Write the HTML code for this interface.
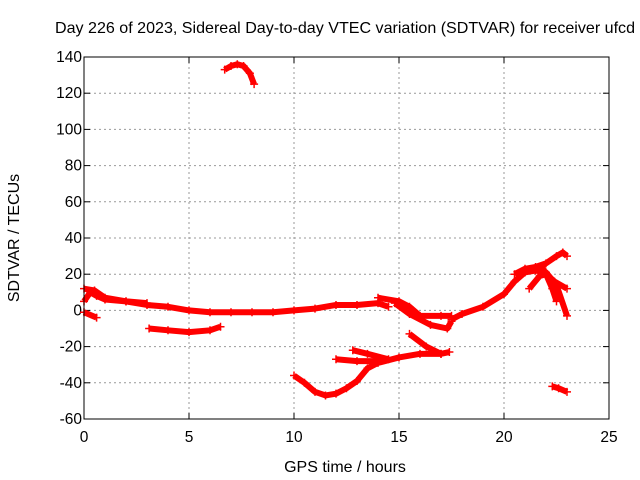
<!DOCTYPE html>
<html><head><meta charset="utf-8"><style>
body{margin:0;background:#fff}
svg{display:block;font-family:"Liberation Sans",sans-serif}
</style></head><body>
<svg id="c" width="640" height="480">
<text x="345" y="33" font-size="16" text-anchor="middle" textLength="580" lengthAdjust="spacingAndGlyphs">Day 226 of 2023, Sidereal Day-to-day VTEC variation (SDTVAR) for receiver ufcd</text>
<text x="345" y="472" font-size="16" text-anchor="middle">GPS time / hours</text>
<text transform="translate(19,238) rotate(-90)" font-size="16" text-anchor="middle">SDTVAR / TECUs</text>
<g id="grid"></g><g id="ticks"></g><g id="series"></g>
<rect x="84" y="57" width="525" height="362" fill="none" stroke="#000"/>
</svg>
<script>
const xTicks=[0,5,10,15,20,25];
const yTicks=[140,120,100,80,60,40,20,0,-20,-40,-60];
const track1=[[6.7,133],[7.0,135],[7.3,136],[7.6,135],[7.9,131],[8.1,125]];
const track2=[[0,5],[0.3,10],[0.6,8],[1,6],[2,5],[3,3],[4,2],[5,0],[6,-1],[7,-1],[8,-1],[9,-1],[10,0],[11,1],[12,3],[13,3],[14,4],[14.5,2]];
const track3=[[0,12],[0.5,11],[1,7],[2,5],[3,4]];
const track4=[[0,-1],[0.6,-4]];
const track5=[[3.1,-10],[4,-11],[5,-12],[6,-11],[6.5,-9]];
const track6=[[14,7],[15,5],[15.5,2],[16,-3],[17,-3],[17.5,-3]];
const track7=[[14.8,4],[15.5,-2],[16.5,-8],[17.3,-10],[17.5,-6]];
const track8=[[10,-36],[10.5,-40],[11,-45],[11.5,-47],[12,-46],[12.5,-43],[13,-39],[13.5,-32],[14,-29],[15,-26],[16,-24],[17,-24],[17.4,-23]];
const track9=[[12,-27],[13,-28],[14,-28]];
const track10=[[12.8,-22],[13.5,-24],[14.5,-27]];
const track11=[[15.5,-13],[16.3,-20],[17,-24]];
const track12=[[17.5,-5],[18,-2],[19,2],[20,9],[20.5,16],[21,21],[21.5,22],[22,21],[22.5,14],[23,-3]];
const track13=[[20.5,20],[21,23],[21.5,24],[22,26],[22.5,30],[22.8,32],[23,30]];
const track14=[[21.2,12],[21.7,19],[22,20],[22.4,16],[23,12]];
const track15=[[21.8,24],[22,20],[22.3,12],[22.5,5]];
const track16=[[22.3,-42],[22.6,-43],[23,-45]];
const tracks=[track1,track2,track3,track4,track5,track6,track7,track8,track9,track10,track11,track12,track13,track14,track15,track16];
const X0=84,X1=609,Y0=419,Y1=57;
const sx=v=>X0+(v-0)/25*(X1-X0);
const sy=v=>Y0-(v+60)/200*(Y0-Y1);
const NS='http://www.w3.org/2000/svg';
const g=document.getElementById('grid'),t=document.getElementById('ticks'),s=document.getElementById('series');
function mk(tag,a,p){const e=document.createElementNS(NS,tag);for(const k in a)e.setAttribute(k,a[k]);p.appendChild(e);return e;}
xTicks.forEach(v=>{const x=sx(v);
 if(v>0&&v<25){const l=mk('line',{x1:x,x2:x,y1:Y1,y2:Y0,stroke:'#999','stroke-dasharray':'2,3'},g);
 
 }
 mk('line',{x1:x,x2:x,y1:Y0,y2:Y0-6,stroke:'#000'},t);mk('line',{x1:x,x2:x,y1:Y1,y2:Y1+6,stroke:'#000'},t);
 const tx=mk('text',{x:x,y:Y0+23,'font-size':15.5,'text-anchor':'middle'},t);tx.textContent=v;
 
 });
yTicks.forEach(v=>{const y=sy(v);
 if(v>-60&&v<140){const l=mk('line',{x1:X0,x2:X1,y1:y,y2:y,stroke:'#999','stroke-dasharray':'2,3'},g);
 
 }
 mk('line',{x1:X0,x2:X0+6,y1:y,y2:y,stroke:'#000'},t);mk('line',{x1:X1,x2:X1-6,y1:y,y2:y,stroke:'#000'},t);
 const tx=mk('text',{x:X0-2,y:y+5,'font-size':15.5,'text-anchor':'end'},t);tx.textContent=v;
 
 });
tracks.forEach((tr,i)=>{
 const p=mk('polyline',{points:tr.map(d=>sx(d[0])+','+sy(d[1])).join(' '),fill:'none',stroke:'#f00','stroke-width':6,'stroke-linejoin':'round'},s);
 
 
 tr.forEach(d=>{const x=sx(d[0]),y=sy(d[1]);
  const m=mk('path',{d:`M${x-4},${y}h8M${x},${y-4}v8`,stroke:'#f00','stroke-width':1.5},s);
  
  });
});
</script>
</body></html>
